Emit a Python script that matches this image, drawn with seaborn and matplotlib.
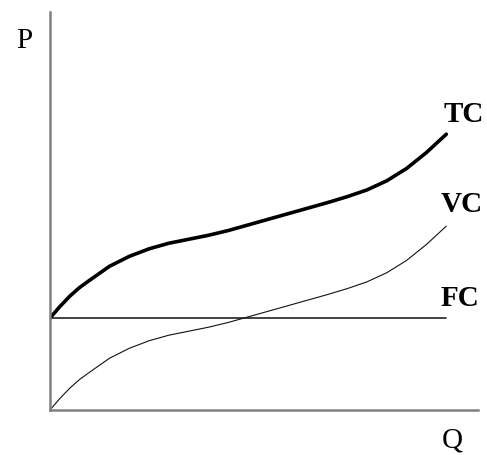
import numpy as np
import pandas as pd
import matplotlib
matplotlib.use("Agg")
import matplotlib.pyplot as plt
import seaborn as sns

# quantity positions
q = [0, 0.25, 0.5, 0.75, 1, 1.5, 2, 2.5, 3, 3.5, 4, 4.5, 5, 5.5, 6, 6.5, 7, 7.5, 8, 8.5, 9, 9.5, 10]
vc = [0, 0.29, 0.55, 0.77, 0.95, 1.30, 1.55, 1.74, 1.88, 1.98, 2.08, 2.20, 2.34, 2.48, 2.62, 2.76, 2.90, 3.05, 3.22, 3.45, 3.76, 4.16, 4.62]
tc = [2.31, 2.60, 2.86, 3.08, 3.26, 3.61, 3.86, 4.05, 4.19, 4.29, 4.39, 4.51, 4.65, 4.79, 4.93, 5.07, 5.21, 5.36, 5.53, 5.76, 6.07, 6.47, 6.93]
fc = [2.31] * len(q)

df = pd.DataFrame({"Q": q, "VC": vc, "TC": tc, "FC": fc})

sns.set_style("white")
plt.rcParams["font.family"] = ["Liberation Serif", "DejaVu Serif"]
plt.rcParams["text.color"] = "black"

fig = plt.figure(figsize=(4.87, 4.55), dpi=100)
ax = fig.add_axes([50 / 487, 45 / 455, 428 / 487, 398 / 455])

sns.lineplot(data=df, x="Q", y="FC", ax=ax, color="#222222", linewidth=1.2)
sns.lineplot(data=df, x="Q", y="VC", ax=ax, color="#111111", linewidth=0.8)
sns.lineplot(data=df, x="Q", y="TC", ax=ax, color="black", linewidth=2.6)

ax.set_xlim(0, 10.8)
ax.set_ylim(0, 10)
ax.set_xticks([])
ax.set_yticks([])
ax.set_xlabel("")
ax.set_ylabel("")
for s in ["top", "right"]:
    ax.spines[s].set_visible(False)
for s in ["left", "bottom"]:
    ax.spines[s].set_color("#808080")
    ax.spines[s].set_linewidth(1.8)

# curve labels
ax.text(10.45, tc[-1] + 0.5, "TC", fontsize=21, fontweight="bold", ha="center", va="center")
ax.text(10.4, vc[-1] + 0.55, "VC", fontsize=21, fontweight="bold", ha="center", va="center")
ax.text(10.35, fc[-1] + 0.48, "FC", fontsize=21, fontweight="bold", ha="center", va="center")

fig.text(24 / 487, 1 - 41 / 455, "P", fontsize=21, ha="center", va="center")
fig.text(452 / 487, 1 - 441 / 455, "Q", fontsize=21, ha="center", va="center")

fig.savefig("out.png", dpi=100)
